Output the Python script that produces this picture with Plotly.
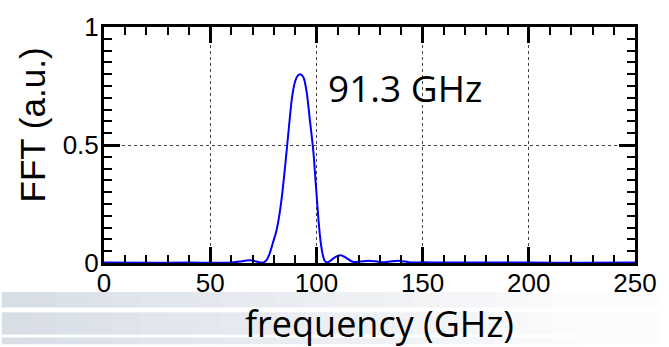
import plotly.graph_objects as go

# ---- data ----
freq_ghz = [0, 20, 40, 55, 60, 64, 67, 69, 71, 73, 75, 76.5, 78, 79.5, 81, 82.5, 84, 85.5,
            87, 88.5, 90, 91.3, 92.5, 94, 95.5, 97, 98.5, 100, 101, 102, 103, 104, 105.5,
            107, 109, 111.5, 114, 117, 120.5, 124.5, 128, 131, 134.5, 138.5, 142, 145,
            150, 160, 175, 200, 225, 250]
fft_au = [0.002, 0.001, 0.002, 0.001, 0.002, 0.006, 0.011, 0.012, 0.008, 0.003, 0.002,
          0.012, 0.04, 0.085, 0.13, 0.20, 0.30, 0.43, 0.57, 0.70, 0.77, 0.795, 0.80,
          0.785, 0.72, 0.60, 0.48, 0.30, 0.18, 0.09, 0.035, 0.008, 0.003, 0.012, 0.026,
          0.033, 0.022, 0.005, 0.006, 0.010, 0.007, 0.003, 0.006, 0.010, 0.006, 0.002,
          0.003, 0.002, 0.002, 0.002, 0.001, 0.002]
peak_label = "91.3 GHz"
x_range = [0, 250]
y_range = [0, 1]
x_major, x_minor = 50, 10
y_major, y_minor = 0.5, 0.05

W, H = 669, 347
L, R, T, B = 104, 25, 19, 84
pw, ph = W - L - R, H - T - B

def px_x(p):
    return (p - L) / pw

def px_y(p):
    return (H - B - p) / ph

fig = go.Figure()
# invisible copy on the overlay axes that carry the short (minor) ticks
fig.add_trace(go.Scatter(x=freq_ghz, y=fft_au, mode="lines", xaxis="x2", yaxis="y2",
                         line=dict(color="rgba(0,0,0,0)", width=0)))
fig.add_trace(go.Scatter(x=freq_ghz, y=fft_au, mode="lines",
                         line=dict(color="#0000ff", width=2, shape="spline", smoothing=0.6)))

# slide background stripes below the chart (decoration, outside the plot area)
shapes = []
bands = [(293, 309), (314, 337), (340, 347)]
nseg = 24
c0 = (216, 222, 230)
c1 = (252, 252, 253)
for (ya, yb) in bands:
    for i in range(nseg):
        t = i / (nseg - 1)
        tt = min(1.0, t * 1.1)
        col = tuple(int(round(c0[k] + (c1[k] - c0[k]) * tt)) for k in range(3))
        xa = W * i / nseg
        xb = W * (i + 1) / nseg + 0.6
        shapes.append(dict(type="rect", xref="paper", yref="paper",
                           x0=px_x(xa), x1=px_x(xb), y0=px_y(yb), y1=px_y(ya),
                           fillcolor="rgb(%d,%d,%d)" % col, line=dict(width=0),
                           layer="below"))

tickfont = dict(family="Liberation Sans, Arial", size=26, color="black")

fig.update_layout(
    width=W, height=H, margin=dict(l=L, r=R, t=T, b=B, pad=0),
    plot_bgcolor="white", showlegend=False, shapes=shapes,
    xaxis=dict(range=x_range, tickmode="linear", tick0=0, dtick=x_major,
               ticks="inside", ticklen=16, tickwidth=3, tickcolor="black",
               showline=True, linecolor="black", linewidth=3, mirror="ticks",
               showgrid=True, gridcolor="#444444", griddash="dot", gridwidth=1,
               zeroline=False, tickfont=tickfont, ticklabelstandoff=-5),
    yaxis=dict(range=y_range, tickmode="linear", tick0=0, dtick=y_major,
               ticks="inside", ticklen=16, tickwidth=3, tickcolor="black",
               showline=True, linecolor="black", linewidth=3, mirror="ticks",
               showgrid=True, gridcolor="#444444", griddash="dot", gridwidth=1,
               zeroline=False, tickfont=tickfont, ticklabelstandoff=-3),
    xaxis2=dict(range=x_range, overlaying="x", anchor="y2", side="bottom",
                tickmode="linear", tick0=0, dtick=x_minor, ticks="inside", ticklen=8,
                tickwidth=2, tickcolor="black", showticklabels=False,
                showline=True, linecolor="black", linewidth=3, mirror="ticks",
                showgrid=False, zeroline=False),
    yaxis2=dict(range=y_range, overlaying="y", anchor="x2", side="left",
                tickmode="linear", tick0=0, dtick=y_minor, ticks="inside", ticklen=8,
                tickwidth=2, tickcolor="black", showticklabels=False,
                showline=True, linecolor="black", linewidth=3, mirror="ticks",
                showgrid=False, zeroline=False),
    annotations=[
        dict(text=peak_label, x=141.7, y=0.745, xref="x", yref="y",
             showarrow=False, xanchor="center", yanchor="middle",
             font=dict(family="Open Sans", size=37, color="black")),
        dict(text="FFT (a.u.)", x=px_x(31), y=px_y(120.5), xref="paper",
             yref="paper", showarrow=False, textangle=-90,
             xanchor="center", yanchor="middle",
             font=dict(family="Liberation Sans, Arial", size=35, color="black")),
        dict(text="frequency (GHz)", x=px_x(384), y=px_y(326), xref="paper",
             yref="paper", showarrow=False, xanchor="center", yanchor="middle",
             font=dict(family="Open Sans", size=36, color="black")),
    ],
)
fig.write_html("out.html")
